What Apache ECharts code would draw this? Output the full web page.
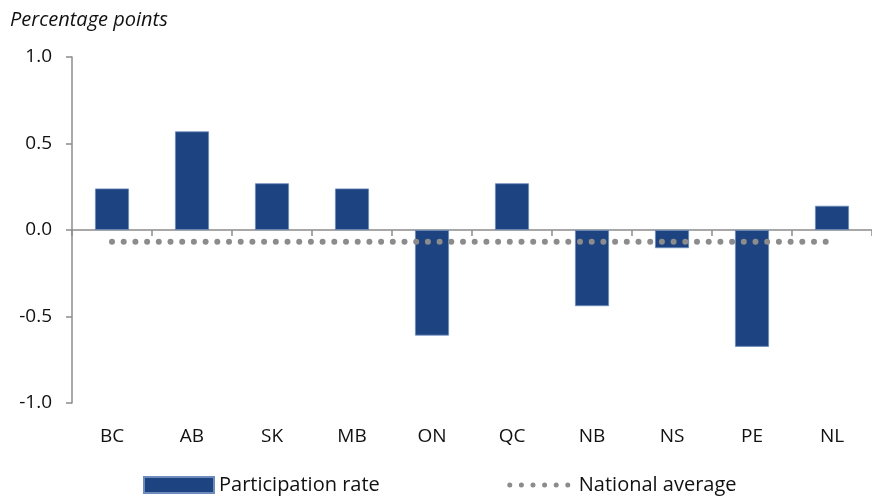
<!DOCTYPE html>
<html>
<head>
<meta charset="utf-8">
<script src="https://cdn.jsdelivr.net/npm/echarts@6/dist/echarts.min.js"></script>
<style>
  html, body { margin: 0; padding: 0; background: #fff; }
  #chart { width: 872px; height: 496px; }
</style>
</head>
<body>
<div id="chart"></div>
<script>
const provinces = ["BC", "AB", "SK", "MB", "ON", "QC", "NB", "NS", "PE", "NL"];
const participation = [0.24, 0.57, 0.27, 0.24, -0.61, 0.27, -0.44, -0.105, -0.675, 0.14];
const nationalAvg = [-0.068, -0.068, -0.068, -0.068, -0.068, -0.068, -0.068, -0.068, -0.068, -0.068];
const yTicks = [-1.0, -0.5, 0.0, 0.5, 1.0];

const font = "'Open Sans', 'Noto Sans', sans-serif";
const grey = "#8c8c8c";
const blue = "#1d4481";

// dotted legend icon: six dots, padded to the 70px icon box
function dotsIcon() {
  let p = "path://M0,2L0,2M70,2L70,2";
  for (let i = 0; i < 6; i++) {
    const cx = 6 + i * 11.6;
    p += "M" + (cx - 2.5) + ",2a2.5,2.5 0 1,0 5,0a2.5,2.5 0 1,0 -5,0";
  }
  return p;
}

const chart = echarts.init(document.getElementById("chart"));
chart.setOption({
  animation: false,
  textStyle: { fontFamily: font },
  title: {
    text: "Percentage points",
    left: 5,
    top: 5,
    textStyle: { fontFamily: font, fontStyle: "italic", fontWeight: "normal", fontSize: 20, color: "#111" }
  },
  grid: { left: 72, right: 0, top: 57, bottom: 93 },
  legend: {
    bottom: -4,
    left: 138,
    itemGap: 124,
    itemWidth: 70,
    itemHeight: 16,
    textStyle: { fontFamily: font, fontSize: 20, color: "#111" },
    data: [
      { name: "Participation rate", icon: "rect" },
      { name: "National average", icon: dotsIcon() }
    ]
  },
  xAxis: [
    {
      type: "category",
      data: provinces,
      axisLine: { onZero: true, lineStyle: { color: grey, width: 1.5 } },
      axisTick: { show: true, length: 6, lineStyle: { color: grey, width: 1.5 } },
      axisLabel: { show: false }
    },
    {
      type: "category",
      data: provinces,
      position: "bottom",
      axisLine: { show: false, onZero: false },
      axisTick: { show: false },
      axisLabel: { color: "#111", fontSize: 19, margin: 24 }
    }
  ],
  yAxis: {
    type: "value",
    min: yTicks[0],
    max: yTicks[yTicks.length - 1],
    interval: 0.5,
    axisLine: { show: true, lineStyle: { color: grey, width: 1.5 } },
    axisTick: { show: true, length: 6, lineStyle: { color: grey, width: 1.5 } },
    splitLine: { show: false },
    axisLabel: {
      color: "#111",
      fontSize: 19,
      margin: 20,
      formatter: v => v.toFixed(1)
    }
  },
  series: [
    {
      name: "Participation rate",
      type: "bar",
      xAxisIndex: 0,
      data: participation,
      barWidth: 34,
      itemStyle: { color: blue, borderColor: "#6d8cbd", borderWidth: 0.8 }
    },
    {
      name: "National average",
      type: "line",
      xAxisIndex: 0,
      data: nationalAvg,
      symbol: "none",
      itemStyle: { color: grey },
      lineStyle: { color: grey, width: 6, type: [0, 11.7], cap: "round" }
    }
  ]
});
</script>
</body>
</html>
